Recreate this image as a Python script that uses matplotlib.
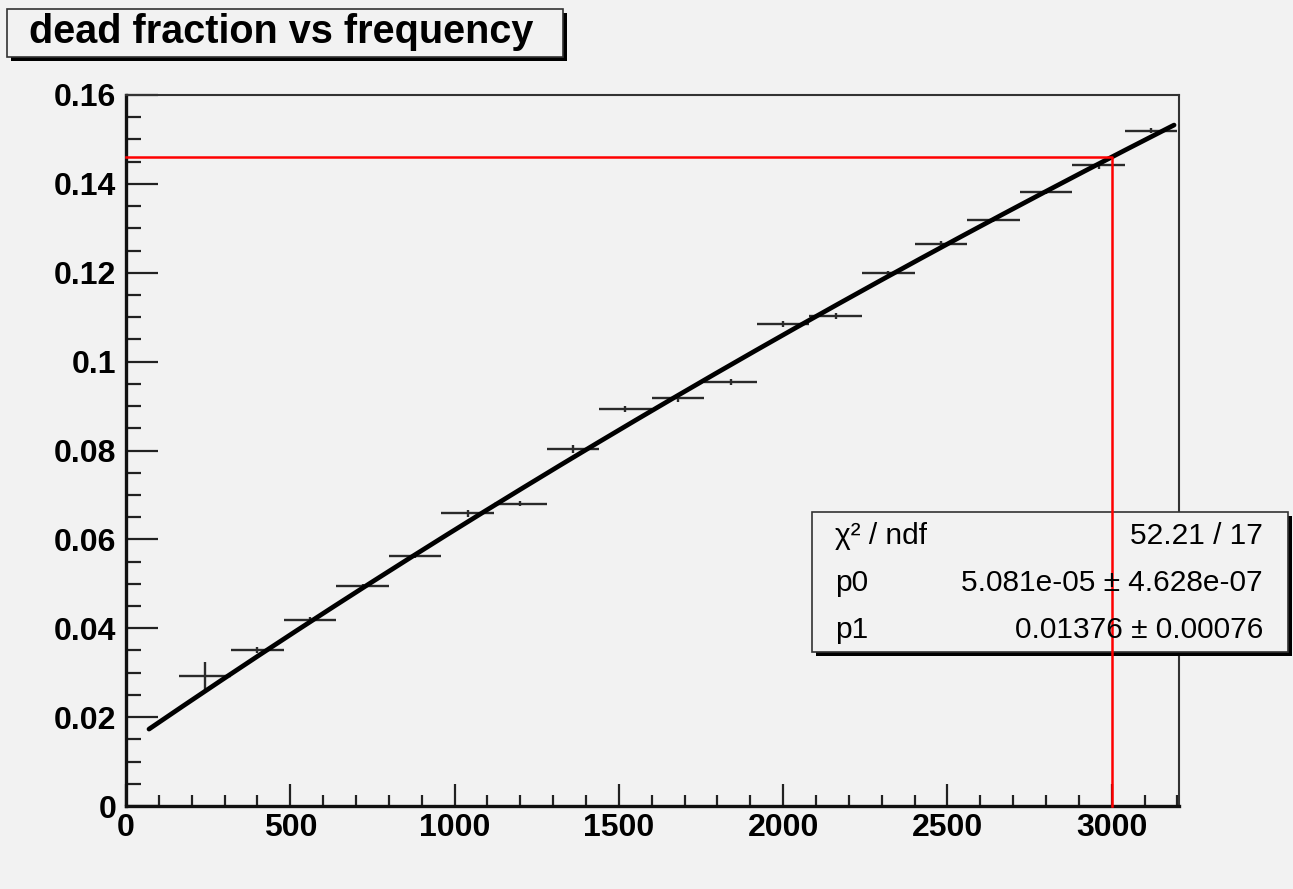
import matplotlib
matplotlib.use("Agg")
import matplotlib.pyplot as plt
from matplotlib.patches import Rectangle
from matplotlib.ticker import MultipleLocator
import numpy as np

plt.rcParams['font.family'] = ['Liberation Sans', 'DejaVu Sans']

# data
freq = [240, 400, 560, 720, 880, 1040, 1200, 1360, 1520, 1680,
        1840, 2000, 2160, 2320, 2480, 2640, 2800, 2960, 3120]
dead = [0.0293, 0.0351, 0.0419, 0.0495, 0.0563, 0.0659, 0.0680, 0.0803, 0.0893, 0.0918,
        0.0954, 0.1085, 0.1103, 0.1199, 0.1265, 0.1319, 0.1382, 0.1442, 0.1520]
freq_err = [80] * len(freq)
dead_err = [0.0032, 0.0006, 0.0006, 0.0005, 0.0006, 0.0008, 0.0006, 0.0009, 0.0007, 0.0009,
            0.0007, 0.0006, 0.0006, 0.0005, 0.0006, 0.0005, 0.0004, 0.0008, 0.0006]

# fit result as printed in the stats box
p0, p0_err = 5.081e-05, 4.628e-07
p1, p1_err = 0.01376, 0.00076
chi2, ndf = 52.21, 17
fit_range = (70, 3190)

cut_x = 3000

x_ticks = [0, 500, 1000, 1500, 2000, 2500, 3000]
x_labels = ['0', '500', '1000', '1500', '2000', '2500', '3000']
y_ticks = [0, 0.02, 0.04, 0.06, 0.08, 0.1, 0.12, 0.14, 0.16]
y_labels = ['0', '0.02', '0.04', '0.06', '0.08', '0.1', '0.12', '0.14', '0.16']

BG = '#f2f2f2'
W, H = 1293, 889


def fx(px):
    return px / W


def fy(py):
    return 1 - py / H


fig = plt.figure(figsize=(W / 100, H / 100), dpi=100, facecolor=BG)
ax = fig.add_axes([fx(126), fy(806), fx(1179) - fx(126), fy(95) - fy(806)])
ax.set_facecolor(BG)

ax.errorbar(freq, dead, xerr=freq_err, yerr=dead_err, fmt='none',
            ecolor='#2a2a2a', elinewidth=1.7, capsize=0, zorder=2)

xs = np.linspace(fit_range[0], fit_range[1], 300)
ax.plot(xs, p0 * xs / (1 + p0 * xs) + p1, color='black', lw=3.4,
        solid_capstyle='round', zorder=3)

cut_y = p0 * cut_x / (1 + p0 * cut_x) + p1
ax.plot([0, cut_x, cut_x], [cut_y, cut_y, 0], color='#ff0000', lw=1.8,
        zorder=6, clip_on=False)

ax.set_xlim(0, 3205)
ax.set_ylim(0, 0.16)
ax.xaxis.set_minor_locator(MultipleLocator(100))
ax.yaxis.set_minor_locator(MultipleLocator(0.005))
ax.set_xticks(x_ticks)
ax.set_xticklabels(x_labels)
ax.set_yticks(y_ticks)
ax.set_yticklabels(y_labels)

ax.tick_params(axis='both', which='both', direction='in', colors='#222222',
               labelcolor='black', top=False, right=False)
ax.tick_params(axis='y', which='major', length=23, width=1.6, pad=7)
ax.tick_params(axis='y', which='minor', length=11, width=1.6)
ax.tick_params(axis='x', which='major', length=16, width=1.6, pad=5)
ax.tick_params(axis='x', which='minor', length=8, width=1.6)
for lab in ax.get_xticklabels() + ax.get_yticklabels():
    lab.set_fontsize(23)
    lab.set_fontweight('bold')

for side in ['left', 'bottom']:
    ax.spines[side].set_linewidth(2.4)
    ax.spines[side].set_color('#111111')
for side in ['top', 'right']:
    ax.spines[side].set_linewidth(1.5)
    ax.spines[side].set_color('#333333')

# title box with shadow
sh = 4
tx0, tx1, ty0, ty1 = 7, 563, 9, 57
fig.add_artist(Rectangle((fx(tx0 + sh), fy(ty1 + sh)), fx(tx1 - tx0), fy(0) - fy(ty1 - ty0),
                         transform=fig.transFigure, facecolor='black', edgecolor='none'))
fig.add_artist(Rectangle((fx(tx0), fy(ty1)), fx(tx1 - tx0), fy(0) - fy(ty1 - ty0),
                         transform=fig.transFigure, facecolor=BG, edgecolor='#333333', lw=1.2))
fig.text(fx(29), fy(43), 'dead fraction vs frequency', ha='left', va='baseline',
         fontsize=28.5, fontweight='bold')

# stats box (added to the axes so the red cut line stays on top)
bx0, bx1, by0, by1 = 812, 1288, 512, 652
ax.add_patch(Rectangle((fx(bx0 + sh), fy(by1 + sh)), fx(bx1 - bx0), fy(0) - fy(by1 - by0),
                       transform=fig.transFigure, facecolor='black', edgecolor='none',
                       clip_on=False, zorder=4))
ax.add_patch(Rectangle((fx(bx0), fy(by1)), fx(bx1 - bx0), fy(0) - fy(by1 - by0),
                       transform=fig.transFigure, facecolor=BG, edgecolor='#333333', lw=1.2,
                       clip_on=False, zorder=5))
rows = [('χ² / ndf', f'{chi2:.2f} / {ndf}'),
        ('p0', f'{p0:.3e} ± {p0_err:.3e}'),
        ('p1', f'{p1:.5f} ± {p1_err:.5f}')]
row_y = [544, 591, 638]
for (left, right), py in zip(rows, row_y):
    fig.text(fx(835), fy(py), left, ha='left', va='baseline', fontsize=21.5)
    fig.text(fx(1263), fy(py), right, ha='right', va='baseline', fontsize=21.5)

fig.savefig('out.png', dpi=100, facecolor=BG)
